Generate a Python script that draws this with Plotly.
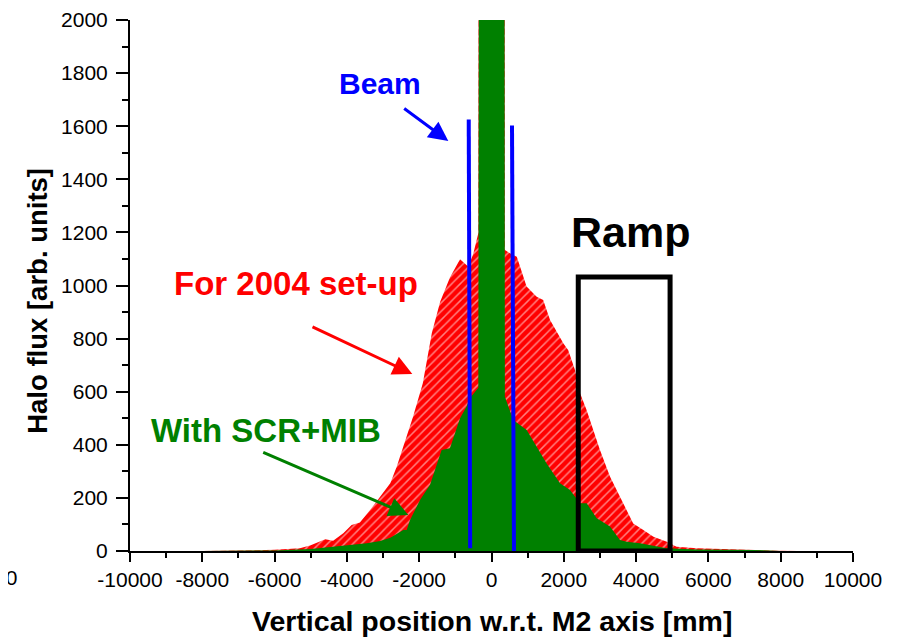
import plotly.graph_objects as go

# ---- data ----
setup2004_x = [-8000, -7000, -6500, -6000, -5600, -5300, -5000, -4600, -4380, -4100, -3870, -3640,
               -3360, -3080, -2800, -2620, -2400, -2170, -1900, -1650, -1420, -1150, -870, -640,
               -500, -365, -340, 350, 370, 510, 700, 970, 1250, 1430, 1620, 1990, 2120, 2310,
               2450, 2630, 3000, 3280, 3550, 3920, 4200, 4480, 4850, 5120, 5680, 6500, 7230, 7900, 8500]
setup2004_y = [0, 1, 3, 5, 7, 10, 22, 44, 39, 67, 98, 107,
               154, 205, 255, 318, 410, 506, 632, 821, 939, 1030, 1099, 1071,
               1121, 1197, 5000, 5000, 1134, 1121, 1108, 996, 958, 945, 870, 782, 757, 682,
               594, 531, 380, 280, 205, 104, 79, 54, 35, 16, 10, 6, 4, 1, 0]

scrmib_x = [-8000, -7000, -6000, -5000, -4400, -3450, -3080, -2800, -2440, -2346, -2254, -1977,
            -1700, -1380, -1150, -870, -690, -600, -365, -320, 340, 370, 603, 973, 1526, 1894,
            2171, 2310, 2448, 2633, 2910, 3278, 3554, 3738, 4107, 4845, 5676, 7234, 8000]
scrmib_y = [0, 1, 2, 8, 16, 29, 38, 50, 79, 79, 117, 192,
            250, 380, 387, 500, 544, 575, 615, 5000, 5000, 581, 493, 456, 330, 255,
            230, 205, 180, 180, 123, 92, 41, 35, 29, 10, 6, 4, 0]

x_tickvals = [-10000, -8000, -6000, -4000, -2000, 0, 2000, 4000, 6000, 8000, 10000]
x_ticktext = ["-10000", "-8000", "-6000", "-4000", "-2000", "0", "2000", "4000", "6000", "8000", "10000"]
y_tickvals = [0, 200, 400, 600, 800, 1000, 1200, 1400, 1600, 1800, 2000]
y_ticktext = ["0", "200", "400", "600", "800", "1000", "1200", "1400", "1600", "1800", "2000"]

x_range = [-10000, 10000]
y_range = [0, 2000]

# annotation geometry (data units)
beam_left = [(-630, 1625), (-590, 10)]
beam_right = [(567, 1603), (622, -15)]
ramp_box = (2400, 0, 4940, 1032)

FONT = "Liberation Sans, Arial, sans-serif"

fig = go.Figure()
fig.add_trace(go.Scatter(
    x=setup2004_x, y=setup2004_y, mode="lines", line=dict(width=0, color="red"),
    fill="tozeroy", fillcolor="red",
    fillpattern=dict(shape="/", fgcolor="white", bgcolor="red", size=6, solidity=0.25),
    name="For 2004 set-up", showlegend=False, hoverinfo="skip"))
fig.add_trace(go.Scatter(
    x=scrmib_x, y=scrmib_y, mode="lines", line=dict(width=0, color="#008000"),
    fill="tozeroy", fillcolor="#008000",
    name="With SCR+MIB", showlegend=False, hoverinfo="skip"))

shapes = []
for seg in (beam_left, beam_right):
    (x0, y0), (x1, y1) = seg
    shapes.append(dict(type="line", xref="x", yref="y", x0=x0, y0=y0, x1=x1, y1=y1,
                       line=dict(color="#0000FF", width=4)))
rx0, ry0, rx1, ry1 = ramp_box
shapes.append(dict(type="rect", xref="x", yref="y", x0=rx0, y0=ry0, x1=rx1, y1=ry1,
                   line=dict(color="black", width=5)))

def label(text, x, y, color, size):
    return dict(text=text, x=x, y=y, xref="x", yref="y", showarrow=False,
                font=dict(family=FONT, size=size, color=color, weight="bold"),
                xanchor="center", yanchor="middle")

def arrow(x_head, y_head, x_tail, y_tail, color):
    return dict(text="", x=x_head, y=y_head, ax=x_tail, ay=y_tail, xref="x", yref="y",
                axref="x", ayref="y", showarrow=True, arrowhead=2, arrowsize=1.3,
                arrowwidth=3, arrowcolor=color, standoff=0, startstandoff=0)

annotations = [
    label("Beam", -3084, 1759, "#0000FF", 30),
    label("For 2004 set-up", -5407, 1006, "#FF0000", 33),
    label("With SCR+MIB", -6251, 452, "#008000", 33),
    label("Ramp", 3845, 1202, "black", 43),
    arrow(-1195, 1544, -2456, 1671, "#0000FF"),
    arrow(-2191, 667, -4993, 847, "#FF0000"),
    arrow(-2301, 136, -6356, 374, "#008000"),
    dict(text="Halo flux [arb. units]", xref="paper", yref="paper", x=-0.128, y=0.472,
         textangle=-90, showarrow=False, xanchor="center", yanchor="middle",
         font=dict(family=FONT, size=27.5, color="black", weight="bold")),
    dict(text="Vertical position w.r.t. M2 axis [mm]", xref="paper", yref="paper",
         x=0.5, y=-0.131, showarrow=False, xanchor="center", yanchor="middle",
         font=dict(family=FONT, size=28.5, color="black", weight="bold")),
    dict(text="-12000", xref="paper", yref="paper", x=-0.154, y=-0.05,
         showarrow=False, xanchor="right", yanchor="middle",
         font=dict(family=FONT, size=21, color="black")),
]

axis_common = dict(showline=True, linecolor="black", linewidth=2, showgrid=False,
                   zeroline=False, ticks="outside", tickcolor="black", tickwidth=2,
                   tickmode="array", tickfont=dict(family=FONT, size=21, color="black"))

# The page body has an 8px default margin; size the figure so that the
# plot area lands on the same window pixels as in the reference.
fig.update_layout(
    width=891, height=629,
    margin=dict(l=122, r=46, t=12, b=86, autoexpand=False),
    paper_bgcolor="white", plot_bgcolor="white",
    shapes=shapes, annotations=annotations,
    xaxis=dict(range=x_range, tickvals=x_tickvals, ticktext=x_ticktext, ticklen=9,
               minor=dict(dtick=1000, tick0=0, ticks="outside", ticklen=5, tickwidth=2, tickcolor="black"),
               **axis_common),
    yaxis=dict(range=y_range, tickvals=y_tickvals, ticktext=y_ticktext, ticklen=12, ticklabelstandoff=4,
               minor=dict(dtick=100, tick0=0, ticks="outside", ticklen=6, tickwidth=2, tickcolor="black"),
               **axis_common),
)

fig.write_html("out.html")
